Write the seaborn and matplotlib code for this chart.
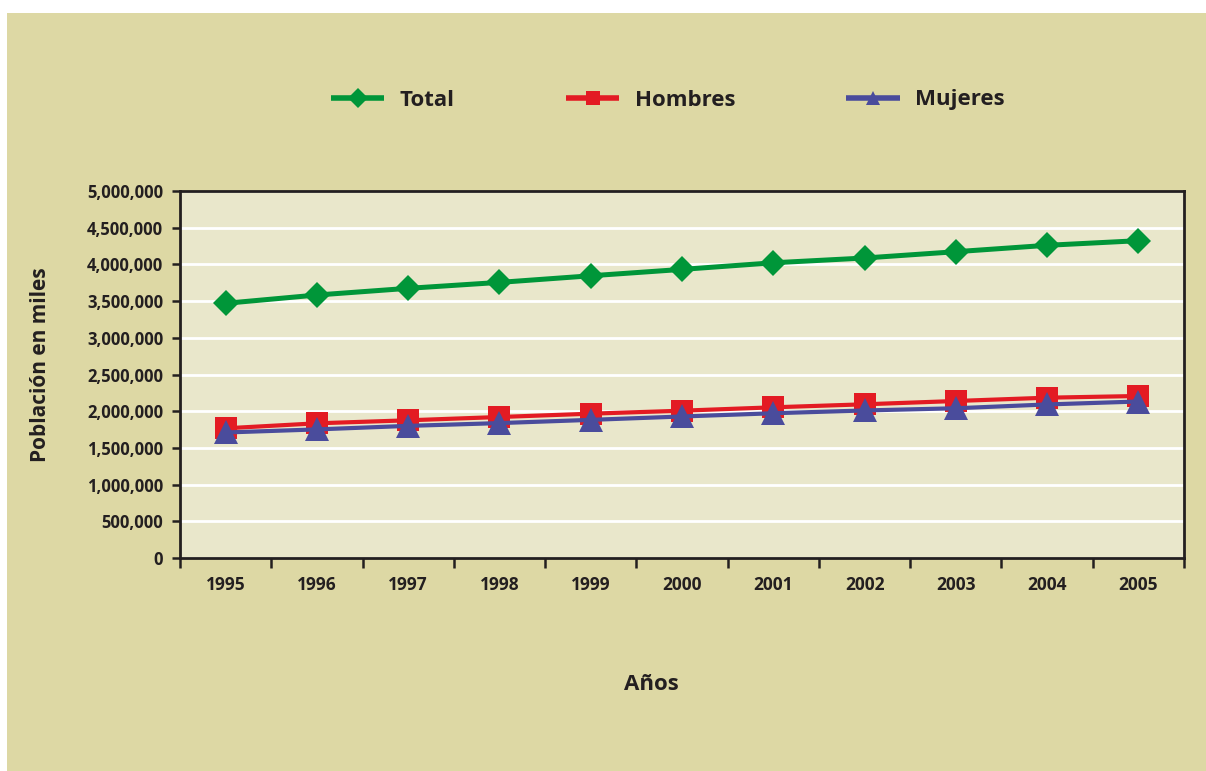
import seaborn as sns
import matplotlib.pyplot as plt
import pandas as pd
from matplotlib.lines import Line2D
from matplotlib.patches import Rectangle
from matplotlib.ticker import StrMethodFormatter, FixedLocator

years = [1995, 1996, 1997, 1998, 1999, 2000, 2001, 2002, 2003, 2004, 2005]
total = [3470000, 3583000, 3674000, 3755000, 3845000, 3932000,
         4022000, 4087000, 4173000, 4260000, 4323000]
hombres = [1767000, 1835000, 1876000, 1921000, 1966000, 2007000,
           2053000, 2094000, 2139000, 2184000, 2207000]
mujeres = [1710000, 1752000, 1800000, 1838000, 1882000, 1928000,
           1972000, 2010000, 2040000, 2092000, 2132000]

series = ["Total", "Hombres", "Mujeres"]
df = pd.DataFrame({
    "Año": years * 3,
    "Valor": total + hombres + mujeres,
    "Serie": sum([[s] * len(years) for s in series], []),
})

colors = {"Total": "#009639", "Hombres": "#e31b23", "Mujeres": "#4a4c9c"}
markers = {"Total": "D", "Hombres": "s", "Mujeres": "^"}
msize = {"Total": 13, "Hombres": 15.5, "Mujeres": 17}
lw = {"Total": 3.6, "Hombres": 3.0, "Mujeres": 3.0}

sns.set_style("white")
plt.rcParams["font.family"] = ["Open Sans", "DejaVu Sans"]
plt.rcParams["font.weight"] = "bold"
txt = "#231f20"

fig = plt.figure(figsize=(12.06, 7.71), dpi=100)
fig.patch.set_facecolor("white")
fig.patches.append(Rectangle((7 / 1206, 0), 1 - 7 / 1206, (771 - 13) / 771,
                             transform=fig.transFigure, facecolor="#ddd8a4",
                             edgecolor="none", zorder=-10))

ax = fig.add_axes([180 / 1206, 1 - 558 / 771, 1004 / 1206, 367 / 771])
ax.set_zorder(1)
ax.set_facecolor("#e9e7cb")

for s in series:
    sub = df[df["Serie"] == s]
    sns.lineplot(data=sub, x="Año", y="Valor", ax=ax, color=colors[s],
                 marker=markers[s], markersize=msize[s], markeredgewidth=0,
                 linewidth=lw[s], legend=False)

ax.set_xlim(1994.5, 2005.5)
ax.set_ylim(0, 5000000)
ax.set_yticks(range(0, 5000001, 500000))
ax.yaxis.set_major_formatter(StrMethodFormatter("{x:,.0f}"))
ax.grid(axis="y", color="white", linewidth=2)
ax.set_axisbelow(True)

ax.set_xticks(years)
ax.xaxis.set_minor_locator(FixedLocator([y - 0.5 for y in years] + [2005.5]))
ax.tick_params(axis="x", which="major", length=0, pad=13, labelsize=12.5, colors=txt)
ax.tick_params(axis="x", which="minor", length=7, width=1.8, color=txt, direction="out",
               bottom=True)
ax.tick_params(axis="y", length=6, width=1.8, color=txt, direction="out",
               labelsize=12, labelcolor=txt, pad=6, left=True)
for lab in ax.get_xticklabels() + ax.get_yticklabels():
    lab.set_fontweight("bold")

for sp in ax.spines.values():
    sp.set_visible(True)
    sp.set_color(txt)
    sp.set_linewidth(2)

ax.set_xlabel("")
ax.set_ylabel("")
fig.text(41 / 1206, 1 - 365 / 771, "Población en miles", rotation=90,
         ha="center", va="center", fontsize=15, fontweight="bold", color=txt)
fig.text(651 / 1206, 1 - 684 / 771, "Años", ha="center", va="center",
         fontsize=16, fontweight="bold", color=txt)

handles = [Line2D([], [], color=colors[s], marker=markers[s], markersize=10,
                  markeredgewidth=0, linewidth=4, solid_capstyle="butt")
           for s in series]
leg = fig.legend(handles, series, loc="center", ncol=3,
                 bbox_to_anchor=(668 / 1206, 1 - 100 / 771), frameon=False,
                 prop={"size": 16, "weight": "bold"}, handlelength=2.4,
                 handletextpad=0.7, columnspacing=5.0)
for t in leg.get_texts():
    t.set_color(txt)

fig.savefig("out.png", dpi=100)
